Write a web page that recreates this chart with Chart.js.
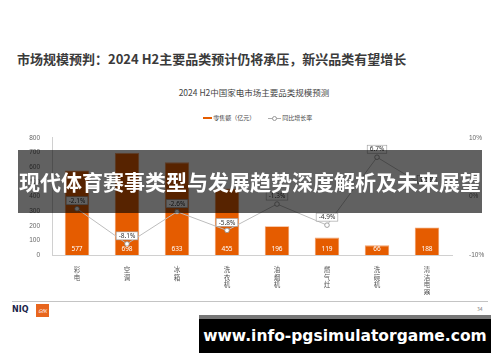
<!DOCTYPE html>
<html lang="zh">
<head>
<meta charset="UTF-8">
<title>2024 H2中国家电市场主要品类规模预测</title>
<script src="https://cdn.jsdelivr.net/npm/chart.js"></script>
<style>
    body { margin: 0; width: 500px; height: 362px; background: #fff; position: relative; overflow: hidden;
           font-family: "Noto Sans CJK SC", "Noto Sans", sans-serif; }
    .title { position: absolute; left: 17px; top: 49px; font-size: 13px; font-weight: bold; color: #3a3a3a; white-space: nowrap; }
    .subtitle { position: absolute; left: 0; width: 508px; top: 86px; text-align: center; font-size: 8.5px; color: #444; }
    .legend { position: absolute; top: 113px; font-size: 6px; color: #444; white-space: nowrap; }
    .chart-box { position: absolute; left: 0; top: 125px; width: 500px; height: 170px; }
    .footer-line { position: absolute; left: 12px; top: 301px; width: 476px; height: 1px; background: #c4c4c4; }
    .niq { position: absolute; left: 12px; top: 305px; font-size: 8px; font-weight: bold; color: #1b1f4b; font-family: "DejaVu Sans", sans-serif; }
    .gfk { position: absolute; left: 36px; top: 304px; width: 13px; height: 13px; background: #e8661e; color: #fff;
           font-size: 5px; font-style: italic; text-align: center; line-height: 13px; }
    .page { position: absolute; left: 477px; top: 305px; font-size: 5px; color: #777; }
    .banner { position: absolute; left: 18px; top: 150px; width: 464px; height: 63px; background: rgba(0,0,0,0.62);
              color: #fff; font-size: 21px; font-weight: bold; text-align: center; line-height: 63px; white-space: nowrap; z-index: 5; }
    .url { position: absolute; left: 199px; top: 315px; width: 292px; height: 38px; background: #000;
           border-top: 4px solid #777; box-sizing: border-box; color: #fff; font-family: "DejaVu Sans", sans-serif;
           font-weight: bold; font-size: 15.5px; text-align: center; line-height: 34px; white-space: nowrap; z-index: 5; }
</style>
</head>
<body>

    <div class="title">市场规模预判：2024 H2主要品类预计仍将承压，新兴品类有望增长</div>
    <div class="subtitle">2024 H2中国家电市场主要品类规模预测</div>

    <!-- legend -->
    <div class="legend" style="left:203px;">
        <span style="display:inline-block;width:9px;height:2px;background:#e55c00;vertical-align:middle;"></span>
        零售额（亿元）
    </div>
    <div class="legend" style="left:268px;">
        <span style="display:inline-block;width:13px;height:1px;background:#aaa;vertical-align:middle;position:relative;">
            <span style="position:absolute;left:4px;top:-2px;width:3px;height:3px;border:1px solid #999;border-radius:50%;background:#fff;"></span>
        </span>
        同比增长率
    </div>

    <div class="chart-box"><canvas id="marketChart"></canvas></div>

    <div class="footer-line"></div>
    <div class="niq">NIQ</div>
    <div class="gfk">GfK</div>
    <div class="page">34</div>

    <div class="banner">现代体育赛事类型与发展趋势深度解析及未来展望</div>
    <div class="url">www.info-pgsimulatorgame.com</div>

<script>
    // data
    const categories = ["彩电", "空调", "冰箱", "洗衣机", "油烟机", "燃气灶", "洗碗机", "清洁电器"];
    const retailSales = [577, 698, 633, 455, 196, 119, 66, 188];      // 零售额（亿元）
    const yoyGrowth = [-2.1, -8.1, -2.6, -5.8, -1.3, -4.9, 6.7, 1.5];  // 同比增长率 %
    const leftTicks = [0, 800, 100];
    const rightTicks = [-10, 10, 10];

    const orange = "#e55c00";

    // value labels for bars and boxed labels for the line
    const labelPlugin = {
        id: "valueLabels",
        afterDatasetsDraw(chart) {
            const ctx = chart.ctx;
            ctx.save();
            ctx.font = "6.5px 'Noto Sans', sans-serif";
            ctx.textAlign = "center";
            ctx.textBaseline = "middle";

            chart.getDatasetMeta(0).data.forEach((bar, i) => {
                ctx.fillStyle = "#fff";
                ctx.fillText(retailSales[i], bar.x, bar.base - 6);
            });

            chart.getDatasetMeta(1).data.forEach((pt, i) => {
                const txt = yoyGrowth[i].toFixed(1) + "%";
                const w = ctx.measureText(txt).width + 5;
                const h = 8;
                const cy = pt.y - 8;
                ctx.fillStyle = "#fff";
                ctx.strokeStyle = "#9a9a9a";
                ctx.lineWidth = 0.6;
                ctx.fillRect(pt.x - w / 2, cy - h / 2, w, h);
                ctx.strokeRect(pt.x - w / 2, cy - h / 2, w, h);
                ctx.fillStyle = "#333";
                ctx.fillText(txt, pt.x, cy + 0.3);
            });
            ctx.restore();
        }
    };

    new Chart(document.getElementById("marketChart"), {
        data: {
            labels: categories.map(c => c.split("")),
            datasets: [
                {
                    type: "bar",
                    label: "零售额（亿元）",
                    data: retailSales,
                    backgroundColor: orange,
                    borderColor: "#f2a06a",
                    borderWidth: 0.8,
                    barPercentage: 0.49,
                    categoryPercentage: 1,
                    yAxisID: "y",
                    order: 2
                },
                {
                    type: "line",
                    label: "同比增长率",
                    data: yoyGrowth,
                    borderColor: "#bdbdbd",
                    borderWidth: 1,
                    pointRadius: 2.3,
                    pointBackgroundColor: "#fff",
                    pointBorderColor: "#8c8c8c",
                    pointBorderWidth: 0.8,
                    tension: 0,
                    yAxisID: "y1",
                    order: 1
                }
            ]
        },
        options: {
            responsive: true,
            maintainAspectRatio: false,
            animation: false,
            layout: { padding: { top: 11, left: 0, right: 0, bottom: 0 } },
            plugins: {
                legend: { display: false },
                tooltip: { enabled: false }
            },
            scales: {
                x: {
                    grid: { display: false },
                    border: { color: "#d0d0d0" },
                    ticks: {
                        color: "#555",
                        font: { size: 6.5, family: "'Noto Sans CJK SC'", lineHeight: 1.15 },
                        maxRotation: 0,
                        padding: 3
                    },
                    afterFit(scale) { scale.height = 40; }
                },
                y: {
                    position: "left",
                    min: leftTicks[0],
                    max: leftTicks[1],
                    grid: { display: false },
                    border: { color: "#d0d0d0" },
                    ticks: { stepSize: leftTicks[2], color: "#666", font: { size: 6.5 }, padding: 4 },
                    afterFit(scale) { scale.width = 52; }
                },
                y1: {
                    position: "right",
                    min: rightTicks[0],
                    max: rightTicks[1],
                    grid: { display: false },
                    border: { display: false },
                    ticks: {
                        stepSize: rightTicks[2],
                        color: "#666",
                        font: { size: 6.5 },
                        padding: 9,
                        callback: v => v + "%"
                    },
                    afterFit(scale) { scale.width = 48; }
                }
            }
        },
        plugins: [labelPlugin]
    });
</script>

</body>
</html>
